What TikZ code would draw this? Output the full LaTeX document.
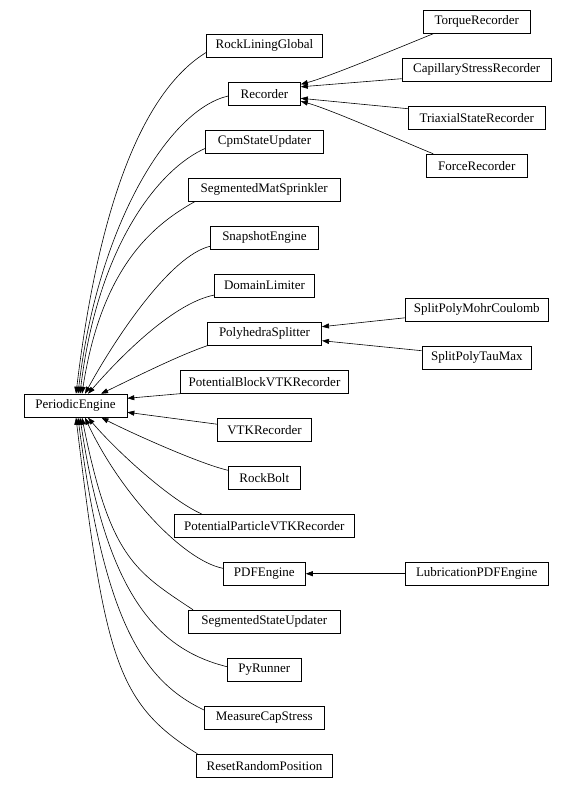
\documentclass[tikz,border=0pt]{standalone}
\usepackage{fontspec}
\setmainfont{Liberation Serif}
\usetikzlibrary{arrows.meta}
\tikzset{
  cls/.style={draw, line width=0.6pt, inner sep=0pt, minimum height=23.3pt,
    font=\fontsize{13}{15}\selectfont},
  inh/.style={line width=0.6pt, -{Triangle[length=7pt,width=5pt]}},
}
\begin{document}
\begin{tikzpicture}[x=1pt,y=-1pt]
\useasboundingbox (0,0) rectangle (576,788);
% base
\node[cls, minimum width=103pt] (pe) at (75.5,405.7) {PeriodicEngine};
% middle column
\node[cls, minimum width=115.7pt] (rlg) at (264.4,45.6) {RockLiningGlobal};
\node[cls, minimum width=72pt]    (rec) at (264.5,93.8) {Recorder};
\node[cls, minimum width=117.6pt] (cpm) at (264.5,141.7) {CpmStateUpdater};
\node[cls, minimum width=151.3pt] (smp) at (264.2,189.7) {SegmentedMatSprinkler};
\node[cls, minimum width=107.6pt] (snp) at (264.5,237.7) {SnapshotEngine};
\node[cls, minimum width=100.4pt] (dom) at (264.5,285.6) {DomainLimiter};
\node[cls, minimum width=114.4pt] (ps)  at (264.5,333.5) {PolyhedraSplitter};
\node[cls, minimum width=168.4pt] (pbv) at (264.5,381.7) {PotentialBlockVTKRecorder};
\node[cls, minimum width=94.4pt]  (vtk) at (264.5,429.7) {VTKRecorder};
\node[cls, minimum width=72pt]    (rb)  at (264.3,477.8) {RockBolt};
\node[cls, minimum width=180pt]   (ppv) at (264.3,525.7) {PotentialParticleVTKRecorder};
\node[cls, minimum width=82.3pt]  (pdf) at (264.3,573.7) {PDFEngine};
\node[cls, minimum width=152pt]   (ssu) at (264.3,621.7) {SegmentedStateUpdater};
\node[cls, minimum width=74pt]    (pyr) at (264.3,669.7) {PyRunner};
\node[cls, minimum width=120pt]   (mcs) at (264.3,717.7) {MeasureCapStress};
\node[cls, minimum width=135.6pt] (rrp) at (264.5,765.7) {ResetRandomPosition};
% right column
\node[cls, minimum width=107.6pt] (tqr) at (476.7,21.8) {TorqueRecorder};
\node[cls, minimum width=149.5pt] (csr) at (476.7,69.7) {CapillaryStressRecorder};
\node[cls, minimum width=137pt]   (tsr) at (476.7,117.7) {TriaxialStateRecorder};
\node[cls, minimum width=101pt]   (frc) at (476.7,165.7) {ForceRecorder};
\node[cls, minimum width=143pt]   (mc)  at (476.8,309.6) {SplitPolyMohrCoulomb};
\node[cls, minimum width=109.7pt] (tau) at (476.8,357.8) {SplitPolyTauMax};
\node[cls, minimum width=143.3pt] (lub) at (476.7,573.7) {LubricationPDFEngine};

% edges to PeriodicEngine (upper)
\draw[inh] ([yshift=-6.8pt]rlg.west) .. controls +(-59.5,36.4) and +(24,-200) .. ([xshift=0.5pt]pe.north);
\draw[inh] ([yshift=-2.2pt]rec.west) .. controls +(-58.5,13.2) and +(20,-170) .. ([xshift=2.5pt]pe.north);
\draw[inh] ([yshift=-6.6pt]cpm.west) .. controls +(-45.5,20) and +(18,-150) .. ([xshift=4.5pt]pe.north);
\draw[inh] ([xshift=6.5pt]smp.south west) .. controls +(-39,22) and +(20,-130) .. ([xshift=6.5pt]pe.north);
\draw[inh] ([yshift=-8.5pt]snp.west) .. controls +(-40,9) and +(30,-55) .. ([xshift=9.5pt]pe.north);
\draw[inh] ([yshift=-9.5pt]dom.west) .. controls +(-40,8) and +(35,-40) .. ([xshift=12.5pt]pe.north);
\draw[inh] ([xshift=1pt]ps.south west) .. controls +(-30,10) and +(25,-12) .. ([xshift=25.5pt]pe.north);
\draw[inh] ([xshift=0.4pt]pbv.south west) -- ([yshift=7.4pt]pe.east);
% lower
\draw[inh] ([yshift=5.5pt]vtk.west) -- ([yshift=-6.6pt]pe.east);
\draw[inh] ([yshift=7.5pt]rb.west) .. controls +(-30,-7) and +(25,13) .. ([xshift=26pt]pe.south);
\draw[inh] ([xshift=27.4pt]ppv.north west) .. controls +(-30,-13) and +(30,35) .. ([xshift=12.5pt]pe.south);
\draw[inh] ([yshift=5.4pt]pdf.west) .. controls +(-40,-8) and +(35,75) .. ([xshift=9.5pt]pe.south);
\draw[inh] ([xshift=5pt]ssu.north west) .. controls +(-58,-38.5) and +(28,140) .. ([xshift=6.5pt]pe.south);
\draw[inh] ([yshift=3pt]pyr.west) .. controls +(-68,-17) and +(27,180) .. ([xshift=4.5pt]pe.south);
\draw[inh] ([yshift=7.7pt]mcs.west) .. controls +(-63,-30) and +(26,200) .. ([xshift=2.5pt]pe.south);
\draw[inh] ([xshift=1pt]rrp.north west) .. controls +(-81,-50) and +(29,240) .. ([xshift=0.5pt]pe.south);

% Recorder children
\draw[inh] ([xshift=10.6pt]tqr.south west) .. controls +(-25,10) and +(30,-8) .. ([yshift=9.5pt]rec.east);
\draw[inh] ([yshift=-9pt]csr.west) -- ([yshift=7pt]rec.east);
\draw[inh] ([yshift=9pt]tsr.west) -- ([yshift=-4.5pt]rec.east);
\draw[inh] ([xshift=7.3pt]frc.north west) .. controls +(-25,-10) and +(30,8) .. ([yshift=-7.5pt]rec.east);

% PolyhedraSplitter children
\draw[inh] ([yshift=-8.2pt]mc.west) -- ([yshift=6.8pt]ps.east);
\draw[inh] ([yshift=7.1pt]tau.west) -- ([yshift=-7.2pt]ps.east);

% PDFEngine child
\draw[inh] (lub.west) -- (pdf.east);
\end{tikzpicture}
\end{document}
